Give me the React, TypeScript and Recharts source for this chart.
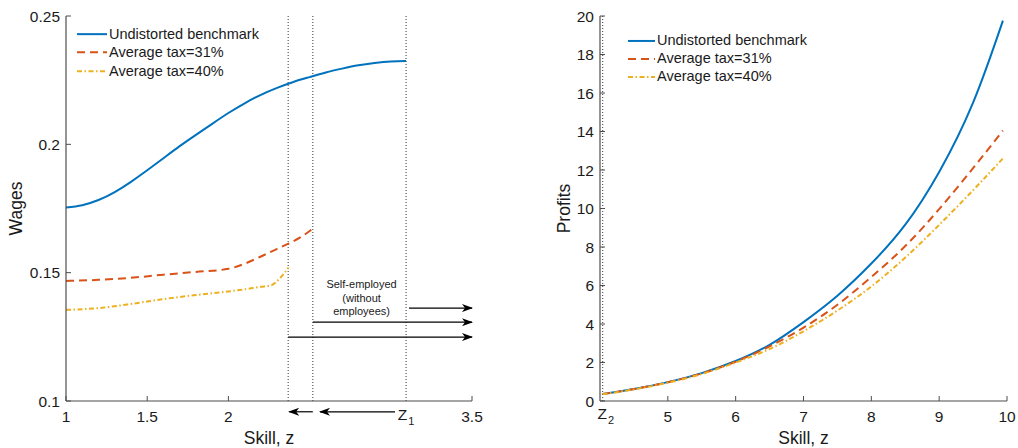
import React from "react";
import {
  LineChart,
  Line,
  XAxis,
  YAxis,
  ReferenceLine,
  ReferenceDot,
  Legend,
} from "recharts";

const FONT = "'Liberation Sans', Arial, Helvetica, sans-serif";
const BLUE = "#0072BD";
const RED = "#D95319";
const YELLOW = "#EDB120";
const AXIS = "#4d4d4d";
const INK = "#1a1a1a";

// Wages panel
const benchSkill = [1.0, 1.1, 1.2, 1.3, 1.4, 1.5, 1.6, 1.7, 1.8, 1.9, 2.0, 2.1, 2.2, 2.3, 2.4, 2.5, 2.6, 2.7, 2.8, 2.9, 3.0, 3.094];
const benchWage = [0.1754, 0.1763, 0.1783, 0.1814, 0.1854, 0.1899, 0.1946, 0.1993, 0.2037, 0.208, 0.2122, 0.216, 0.2193, 0.222, 0.2243, 0.2262, 0.228, 0.2295, 0.2308, 0.2317, 0.2323, 0.2325];
const tax31Skill = [1.0, 1.2, 1.4, 1.6, 1.8, 2.0, 2.1, 2.2, 2.3, 2.37, 2.45, 2.52];
const tax31Wage = [0.1468, 0.1472, 0.148, 0.1492, 0.1503, 0.1515, 0.1535, 0.1563, 0.1593, 0.1613, 0.164, 0.1672];
const tax40Skill = [1.0, 1.2, 1.4, 1.6, 1.8, 2.0, 2.1, 2.2, 2.26, 2.32, 2.37];
const tax40Wage = [0.1355, 0.1362, 0.1378, 0.1397, 0.1413, 0.1427, 0.1435, 0.1445, 0.145, 0.148, 0.152];

const wageTicksX = [1, 1.5, 2, 3.5];
const wageTicksY = [0.1, 0.15, 0.2, 0.25];
const zLow = 2.368;
const zMid = 2.52;
const Z1 = 3.094;

// Profits panel
const Z2 = 4.04;
const profitSkill = [Z2, 4.5, 5, 5.5, 6, 6.5, 7, 7.5, 8, 8.5, 9, 9.5, 9.94];
const benchProfit = [0.36, 0.62, 0.98, 1.45, 2.08, 2.92, 4.1, 5.47, 7.14, 9.16, 11.9, 15.5, 19.76];
const tax31Profit = [0.36, 0.62, 0.97, 1.43, 2.04, 2.84, 3.81, 5.0, 6.44, 8.05, 9.97, 12.1, 14.05];
const tax40Profit = [0.35, 0.6, 0.95, 1.4, 2.0, 2.7, 3.62, 4.7, 5.95, 7.45, 9.15, 10.95, 12.6];
const profitTicksX = [Z2, 5, 6, 7, 8, 9, 10];
const profitTicksY = [0, 2, 4, 6, 8, 10, 12, 14, 16, 18, 20];

const seriesNames = ["Undistorted benchmark", "Average tax=31%", "Average tax=40%"];
const seriesStyles = [
  { color: BLUE, dash: undefined },
  { color: RED, dash: "8 5" },
  { color: YELLOW, dash: "5 2.5 1.5 2.5" },
];

const zip = (xs: number[], ys: number[]) => xs.map((z, i) => ({ z, v: ys[i] }));

const SubLabel = ({ x, y, sub }: { x: number; y: number; sub: string }) => (
  <text x={x} y={y} textAnchor="middle" fontSize={15.5} fontFamily={FONT} fill={INK}>
    Z
    <tspan fontSize={11} dx={1} dy={5}>
      {sub}
    </tspan>
  </text>
);

const XTick = (props: any) => {
  const { x, y, payload } = props;
  const isZ2 = payload.value === Z2;
  return (
    <g>
      {!isZ2 && <line x1={x} y1={y} x2={x} y2={y - 5} stroke={AXIS} />}
      {isZ2 ? (
        <SubLabel x={x + 3} y={y + 18} sub="2" />
      ) : (
        <text x={x} y={y + 21} textAnchor="middle" fontSize={15.5} fontFamily={FONT} fill={INK}>
          {payload.value}
        </text>
      )}
    </g>
  );
};

const YTick = (props: any) => {
  const { x, y, payload } = props;
  return (
    <g>
      <line x1={x} y1={y} x2={x + 5} y2={y} stroke={AXIS} />
      <text x={x - 6} y={y + 5.6} textAnchor="end" fontSize={15.5} fontFamily={FONT} fill={INK}>
        {payload.value}
      </text>
    </g>
  );
};

const yTitle = (text: string, dx: number) => (props: any) => {
  const { viewBox } = props;
  const cx = viewBox.x + dx;
  const cy = viewBox.y + viewBox.height / 2;
  return (
    <text
      x={cx}
      y={cy}
      transform={`rotate(-90, ${cx}, ${cy})`}
      textAnchor="middle"
      dominantBaseline="central"
      fontSize={17.5}
      fontFamily={FONT}
      fill={INK}
    >
      {text}
    </text>
  );
};

const xTitle = (props: any) => {
  const { viewBox } = props;
  return (
    <text
      x={viewBox.x + viewBox.width / 2}
      y={viewBox.y + 42.8}
      textAnchor="middle"
      fontSize={17.5}
      fontFamily={FONT}
      fill={INK}
    >
      Skill, z
    </text>
  );
};

const legendContent = (sampleWidth: number, rowHeight: number) => () => (
  <div style={{ fontFamily: FONT, fontSize: 14.5, color: INK, lineHeight: `${rowHeight}px` }}>
    {seriesNames.map((name, i) => (
      <div key={name} style={{ display: "flex", alignItems: "center", height: rowHeight, whiteSpace: "nowrap" }}>
        <svg width={sampleWidth} height={rowHeight} style={{ marginRight: 2 }}>
          <line
            x1={0}
            y1={rowHeight / 2}
            x2={sampleWidth}
            y2={rowHeight / 2}
            stroke={seriesStyles[i].color}
            strokeWidth={2}
            strokeDasharray={seriesStyles[i].dash}
          />
        </svg>
        <span>{name}</span>
      </div>
    ))}
  </div>
);

// arrow drawn between two data points of a reference segment
const arrowShape = (props: any) => (
  <line
    x1={props.x1}
    y1={props.y1}
    x2={props.x2}
    y2={props.y2}
    stroke="#000"
    strokeWidth={1.2}
    markerEnd="url(#arrowHead)"
  />
);

const dotted = { stroke: "#333", strokeDasharray: "1 2", strokeWidth: 1 };

function WagesPanel() {
  return (
    <LineChart width={500} height={448} margin={{ top: 16, right: 28, bottom: 0, left: 0 }}>
      <defs>
        <marker id="arrowHead" markerUnits="userSpaceOnUse" markerWidth={11} markerHeight={8} refX={10} refY={4} orient="auto">
          <path d="M0,0 L11,4 L0,8 L3,4 Z" fill="#000" />
        </marker>
      </defs>
      <XAxis
        type="number"
        dataKey="z"
        domain={[1, 3.5]}
        ticks={wageTicksX}
        allowDataOverflow
        height={47}
        tickSize={0}
        tickMargin={0}
        tickLine={false}
        axisLine={{ stroke: AXIS, strokeWidth: 1.2 }}
        tick={XTick}
        label={xTitle}
      />
      <YAxis
        type="number"
        domain={[0.1, 0.25]}
        ticks={wageTicksY}
        allowDataOverflow
        width={66}
        tickSize={0}
        tickMargin={0}
        tickLine={false}
        axisLine={{ stroke: AXIS, strokeWidth: 1.2 }}
        tick={YTick}
        label={yTitle("Wages", 16)}
      />
      <ReferenceLine x={zLow} {...dotted} />
      <ReferenceLine x={zMid} {...dotted} />
      <ReferenceLine x={Z1} {...dotted} />

      <ReferenceLine segment={[{ x: 3.112, y: 0.1362 }, { x: 3.5, y: 0.1362 }]} shape={arrowShape} ifOverflow="visible" />
      <ReferenceLine segment={[{ x: zMid, y: 0.1307 }, { x: 3.5, y: 0.1307 }]} shape={arrowShape} ifOverflow="visible" />
      <ReferenceLine segment={[{ x: zLow, y: 0.1249 }, { x: 3.5, y: 0.1249 }]} shape={arrowShape} ifOverflow="visible" />
      <ReferenceLine segment={[{ x: zMid, y: 0.0958 }, { x: 2.374, y: 0.0958 }]} shape={arrowShape} ifOverflow="visible" />
      <ReferenceLine segment={[{ x: 3.026, y: 0.0958 }, { x: 2.564, y: 0.0958 }]} shape={arrowShape} ifOverflow="visible" />

      <ReferenceDot
        x={Z1}
        y={0.0958}
        r={0}
        ifOverflow="visible"
        shape={(p: any) => <SubLabel x={p.cx} y={p.cy + 8} sub="1" />}
      />
      <ReferenceDot
        x={2.82}
        y={0.1405}
        r={0}
        ifOverflow="visible"
        shape={(p: any) => (
          <text x={p.cx} y={p.cy} textAnchor="middle" fontSize={11} fontFamily={FONT} fill={INK}>
            <tspan x={p.cx} dy={-9}>Self-employed</tspan>
            <tspan x={p.cx} dy={13.5}>(without</tspan>
            <tspan x={p.cx} dy={13.5}>employees)</tspan>
          </text>
        )}
      />

      <Line data={zip(benchSkill, benchWage)} dataKey="v" type="natural" stroke={BLUE} strokeWidth={2} dot={false} isAnimationActive={false} />
      <Line data={zip(tax31Skill, tax31Wage)} dataKey="v" type="monotone" stroke={RED} strokeWidth={2} strokeDasharray="8 5" dot={false} isAnimationActive={false} />
      <Line data={zip(tax40Skill, tax40Wage)} dataKey="v" type="monotone" stroke={YELLOW} strokeWidth={2} strokeDasharray="5 2.5 1.5 2.5" dot={false} isAnimationActive={false} />

      <Legend
        layout="vertical"
        align="center"
        verticalAlign="middle"
        content={legendContent(30, 18.3)}
        wrapperStyle={{ left: 77, top: 25, width: 260 }}
      />
    </LineChart>
  );
}

function ProfitsPanel() {
  return (
    <LineChart width={498} height={448} margin={{ top: 16, right: 11, bottom: 0, left: 0 }}>
      <XAxis
        type="number"
        dataKey="z"
        domain={[4, 10]}
        ticks={profitTicksX}
        allowDataOverflow
        height={47}
        tickSize={0}
        tickMargin={0}
        tickLine={false}
        axisLine={{ stroke: AXIS, strokeWidth: 1.2 }}
        tick={XTick}
        label={xTitle}
      />
      <YAxis
        type="number"
        domain={[0, 20]}
        ticks={profitTicksY}
        allowDataOverflow
        width={80}
        tickSize={0}
        tickMargin={0}
        tickLine={false}
        axisLine={{ stroke: AXIS, strokeWidth: 1.2 }}
        tick={YTick}
        label={yTitle("Profits", 44)}
      />
      <ReferenceLine x={Z2} {...dotted} />

      <Line data={zip(profitSkill, benchProfit)} dataKey="v" type="natural" stroke={BLUE} strokeWidth={2} dot={false} isAnimationActive={false} />
      <Line data={zip(profitSkill, tax31Profit)} dataKey="v" type="natural" stroke={RED} strokeWidth={2} strokeDasharray="8 5" dot={false} isAnimationActive={false} />
      <Line data={zip(profitSkill, tax40Profit)} dataKey="v" type="natural" stroke={YELLOW} strokeWidth={2} strokeDasharray="5 2.5 1.5 2.5" dot={false} isAnimationActive={false} />

      <Legend
        layout="vertical"
        align="center"
        verticalAlign="middle"
        content={legendContent(27, 17.9)}
        wrapperStyle={{ left: 108, top: 32, width: 260 }}
      />
    </LineChart>
  );
}

export default function App() {
  return (
    <div style={{ position: "absolute", left: 0, top: 0, width: 1018, height: 448, background: "#fff" }}>
      <div style={{ position: "absolute", left: 0, top: 0 }}>
        <WagesPanel />
      </div>
      <div style={{ position: "absolute", left: 520, top: 0 }}>
        <ProfitsPanel />
      </div>
    </div>
  );
}
